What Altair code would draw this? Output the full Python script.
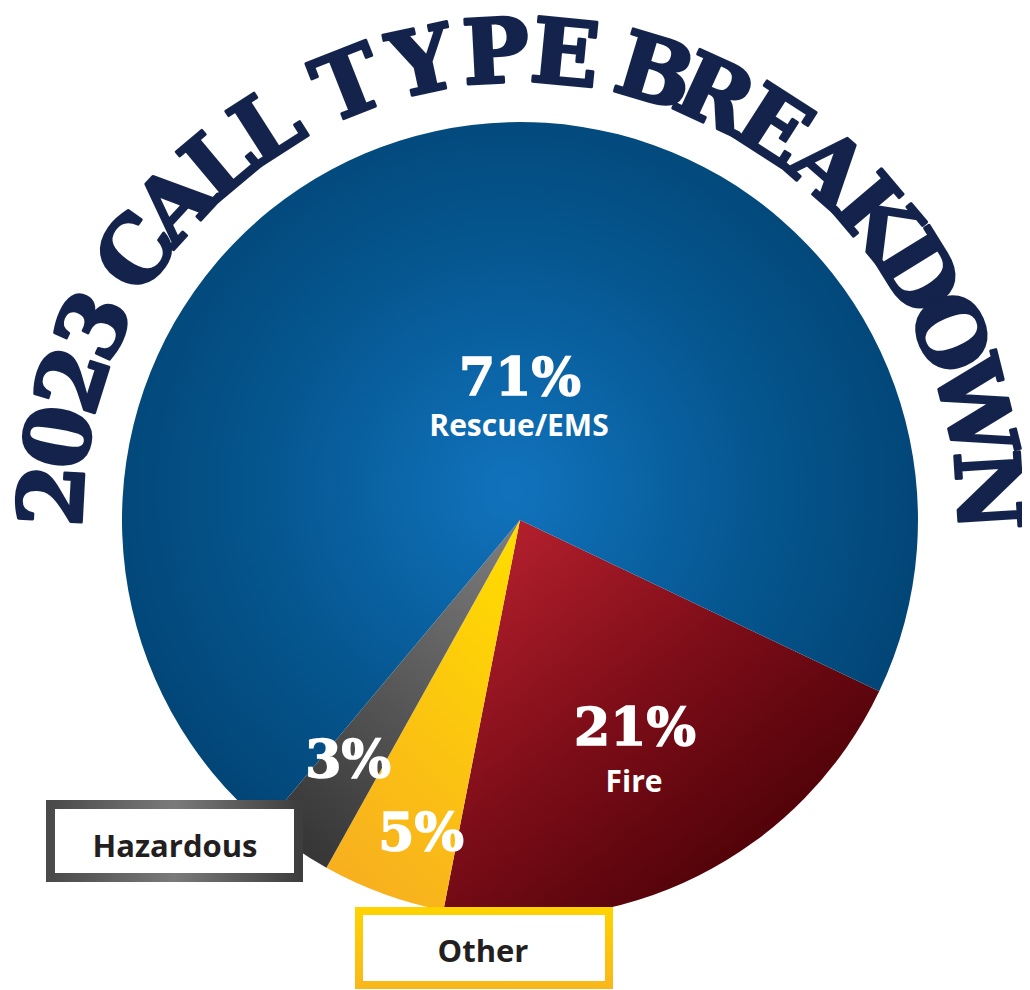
import math
import altair as alt
import pandas as pd

# ---- data ----
categories = ["Fire", "Other", "Hazardous", "Rescue/EMS"]
percents = [21, 5, 3, 71]
pct_labels = ["21%", "5%", "3%", "71%"]
title_text = "2023 CALL TYPE BREAKDOWN"

# ---- layout / style ----
W, H = 1014, 982
CX, CY = 512, 512
R = 398
START = math.radians(115.5)
NAVY = "#14234b"
SLAB = "DejaVu Serif"

df = pd.DataFrame({"category": categories, "percent": percents,
                   "label": pct_labels, "order": list(range(len(categories)))})

theta_scale = alt.Scale(domain=[0, 100], range=[START, START + 2 * math.pi])

base = alt.Chart(df).transform_stack(
    stack="percent", as_=["p0", "p1"], groupby=[], sort=[alt.SortField("order")]
)

def stops(*pairs):
    return [{"offset": o, "color": c} for o, c in pairs]

fills = {
    "Rescue/EMS": {"gradient": "radial", "x1": 0.49, "y1": 0.52, "r1": 0,
                   "x2": 0.49, "y2": 0.52, "r2": 0.62,
                   "stops": stops((0, "#1173bd"), (0.5, "#05568f"), (1, "#013e6b"))},
    "Fire": {"gradient": "linear", "x1": 0.1, "y1": 0.0, "x2": 0.85, "y2": 0.85,
             "stops": stops((0, "#b8212e"), (0.5, "#7c0d18"), (1, "#480005"))},
    "Other": {"gradient": "linear", "x1": 0.8, "y1": 0.0, "x2": 0.3, "y2": 1.0,
              "stops": stops((0, "#ffdb00"), (1, "#f8b01f"))},
    "Hazardous": {"gradient": "linear", "x1": 0.85, "y1": 0.0, "x2": 0.2, "y2": 1.0,
                  "stops": stops((0, "#7a7a7a"), (1, "#353535"))},
}

layers = []
for cat in categories:
    layers.append(
        base.transform_filter(alt.datum.category == cat)
        .mark_arc(radius=R, fill=fills[cat])
        .encode(theta=alt.Theta("p0:Q", scale=theta_scale), theta2="p1:Q",
                x=alt.value(CX), y=alt.value(CY))
    )

# percentage + name labels on slices
pct_pos = {"Rescue/EMS": (512, 387), "Fire": (627, 737), "Hazardous": (340, 769), "Other": (413, 842)}
name_pos = {"Rescue/EMS": (511, 428), "Fire": (626, 784)}
for cat, (px, py) in pct_pos.items():
    layers.append(
        base.transform_filter(alt.datum.category == cat)
        .mark_text(font=SLAB, fontWeight="bold", fontSize=52, color="white",
                   stroke="white", strokeWidth=1.5, align="center", baseline="alphabetic")
        .encode(text="label:N", x=alt.value(px), y=alt.value(py))
    )
for cat, (px, py) in name_pos.items():
    layers.append(
        base.transform_filter(alt.datum.category == cat)
        .mark_text(font="Open Sans", fontWeight="bold", fontSize=30,
                   color="white", align="center", baseline="alphabetic")
        .encode(text="category:N", x=alt.value(px), y=alt.value(py))
    )

# label boxes for small slices
one = pd.DataFrame({"k": [0]})
haz_stroke = {"gradient": "linear", "x1": 0, "y1": 0, "x2": 1, "y2": 0,
              "stops": stops((0, "#4a4a4a"), (0.5, "#7a7a7a"), (1, "#3e3e3e"))}
oth_stroke = {"gradient": "linear", "x1": 0, "y1": 0, "x2": 0, "y2": 1,
              "stops": stops((0, "#ffd200"), (1, "#f9b81a"))}
layers.append(
    alt.Chart(one).mark_rect(fill="white", stroke=haz_stroke, strokeWidth=9)
    .encode(x=alt.value(42.5), x2=alt.value(290.5), y=alt.value(796.5), y2=alt.value(869.5))
)
layers.append(
    alt.Chart(one).mark_rect(fill="white", stroke=oth_stroke, strokeWidth=8)
    .encode(x=alt.value(351), x2=alt.value(601), y=alt.value(903), y2=alt.value(977))
)
box_text_pos = {"Hazardous": (167, 849), "Other": (475, 954)}
for cat, (px, py) in box_text_pos.items():
    layers.append(
        base.transform_filter(alt.datum.category == cat)
        .mark_text(font="Open Sans", fontWeight="bold", fontSize=31,
                   color="#231f20", align="center", baseline="alphabetic")
        .encode(text="category:N", x=alt.value(px), y=alt.value(py))
    )

# curved title: glyph advance (degrees of arc) per character
advance = {"2": 7.2, "0": 7.2, "3": 7.2, "C": 7.5, "A": 7.7, "L": 7.3, "T": 9.0, "Y": 9.8,
           "P": 8.5, "E": 8.5, "B": 8.0, "R": 7.7, "K": 8.5, "D": 8.3, "O": 8.4, "W": 10.7,
           "N": 10.0}
space_adv = [3.0, 3.0, 3.0]
chars, thetas, angles = [], [], []
pos = -90.6
sp = 0
for ch in title_text:
    if ch == " ":
        pos += space_adv[sp]
        sp += 1
        continue
    w = advance[ch]
    if ch == "A" and sp == 3:
        w = 8.5
    c = pos + w / 2
    chars.append(ch)
    thetas.append(math.radians(c))
    angles.append(c % 360)
    pos += w
title_df = pd.DataFrame({"ch": chars, "theta": thetas, "angle": angles})
layers.append(
    alt.Chart(title_df).mark_text(font=SLAB, fontWeight="bold", fontSize=89, color=NAVY,
                                  stroke=NAVY, strokeWidth=3, strokeJoin="round",
                                  align="center", baseline="alphabetic")
    .encode(text="ch:N", theta=alt.Theta("theta:Q", scale=None, stack=None),
            radius=alt.value(438), angle=alt.Angle("angle:Q", scale=None),
            x=alt.value(CX), y=alt.value(CY))
)

chart = (
    alt.layer(*layers)
    .resolve_scale(theta="independent")
    .properties(width=W, height=H, padding=0, autosize=alt.AutoSizeParams(type="none"),
                background="white")
    .configure_view(strokeWidth=0)
)
chart.save("out.html", embed_options={"renderer": "svg", "actions": False})
